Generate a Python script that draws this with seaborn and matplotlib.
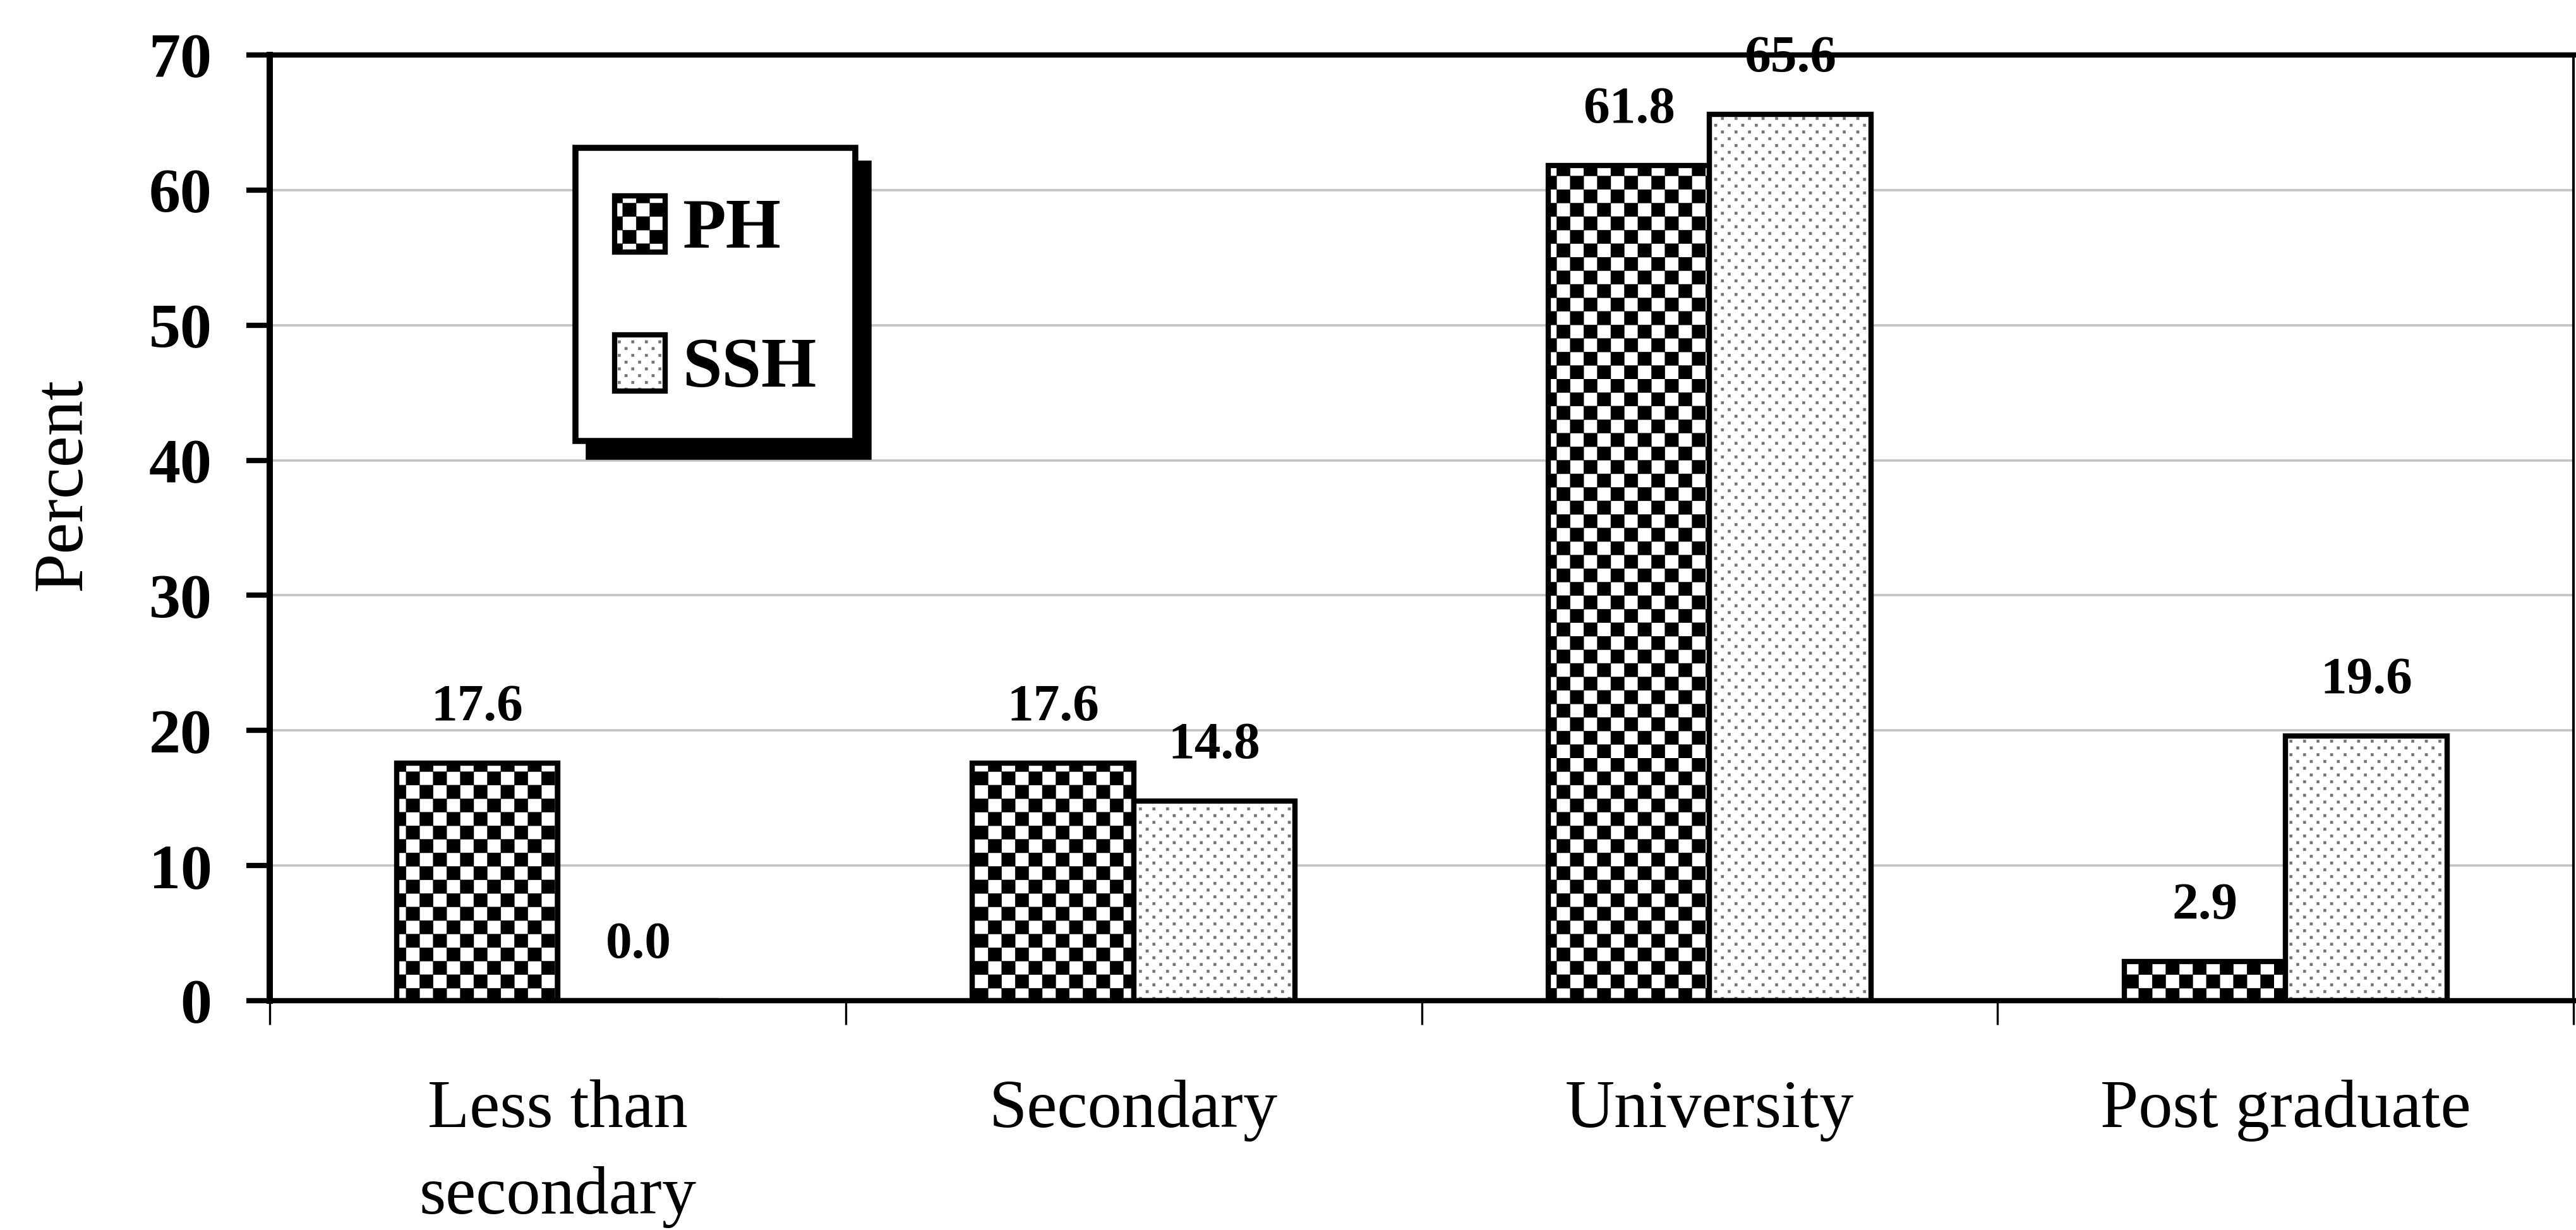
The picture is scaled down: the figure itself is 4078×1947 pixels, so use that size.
import warnings
warnings.filterwarnings("ignore")
import numpy as np
import pandas as pd
import matplotlib
matplotlib.use("Agg")
import matplotlib.pyplot as plt
import matplotlib.hatch as mhatch
import matplotlib.colors as mcolors
from matplotlib.path import Path
from matplotlib.patches import Patch, Rectangle
from matplotlib.legend_handler import HandlerPatch
from matplotlib.ticker import FixedLocator
import seaborn as sns

# ---------------- data ----------------
categories = ["Less than\nsecondary", "Secondary", "University", "Post graduate"]
series = ["PH", "SSH"]
ph_values = [17.6, 17.6, 61.8, 2.9]
ssh_values = [0.0, 14.8, 65.6, 19.6]
y_ticks = [0, 10, 20, 30, 40, 50, 60, 70]
y_label = "Percent"


# ---------------- custom fill patterns (checkerboard / stipple) ----------------
class FillPattern(mhatch.HatchPatternBase):
    def __init__(self, hatch, density):
        rects = []
        if "c" in hatch:
            n = 14
            s = 1.0 / n
            for i in range(n):
                for j in range(n):
                    if (i + j) % 2 == 0:
                        rects.append((i * s, j * s, s, s))
        if "d" in hatch:
            nc, nr = 14, 28
            d = 0.014
            for r in range(nr):
                for c in range(nc):
                    cx = (c + 0.25) / nc + (r % 2) * 0.5 / nc
                    cy = (r + 0.5) / nr
                    rects.append((cx - d / 2, cy - d / 2, d, d))
        self.rects = rects
        self.num_vertices = 5 * len(rects)

    def set_vertices_and_codes(self, vertices, codes):
        for k, (x, y, w, h) in enumerate(self.rects):
            vertices[5 * k:5 * k + 5] = [(x, y), (x + w, y), (x + w, y + h), (x, y + h), (x, y)]
            codes[5 * k:5 * k + 5] = [Path.MOVETO, Path.LINETO, Path.LINETO,
                                      Path.LINETO, Path.CLOSEPOLY]


mhatch._hatch_types.append(FillPattern)


def style_patch(p, hatch, hcolor, lw=2.0):
    p.set_facecolor("white")
    p.set_edgecolor("black")
    p.set_linewidth(lw)
    p.set_hatch(hatch)
    if hasattr(p, "set_hatchcolor"):
        p.set_hatchcolor(hcolor)
    else:
        p._hatch_color = mcolors.to_rgba(hcolor)


def legend_box(legend, orig_handle, xdescent, ydescent, width, height, fontsize):
    h = 0.79 * fontsize
    yc = 0.33 * fontsize
    return Rectangle((-xdescent, yc - h / 2), width, h)


sns.set_style("white")
plt.rcParams["font.family"] = ["Liberation Serif", "DejaVu Serif"]
plt.rcParams["hatch.linewidth"] = 0.1
plt.rcParams["text.color"] = "black"
plt.rcParams["axes.labelcolor"] = "black"
plt.rcParams["xtick.color"] = "black"
plt.rcParams["ytick.color"] = "black"

df = pd.DataFrame({
    "Education": categories * 2,
    "Percent": ph_values + ssh_values,
    "Group": [series[0]] * len(categories) + [series[1]] * len(categories),
})

fig = plt.figure(figsize=(4079 / 300, 1947 / 300), dpi=300)
ax = fig.add_axes([0.1047, 0.1864, 0.8941, 0.7689])

sns.barplot(data=df, x="Education", y="Percent", hue="Group",
            order=categories, hue_order=series,
            palette={"PH": "white", "SSH": "white"}, saturation=1,
            width=0.56, gap=0, errorbar=None,
            edgecolor="black", linewidth=2, legend=False, ax=ax)

pattern = {"PH": ("c", "black"), "SSH": ("d", "0.45")}
for cont, name in zip(ax.containers, series):
    for bar in cont:
        style_patch(bar, *pattern[name])

for cont in ax.containers:
    ax.bar_label(cont, fmt="%.1f", padding=12, fontsize=20, fontweight="bold",
                 color="black")

ax.set_xlim(-0.5, len(categories) - 0.5)
ax.set_ylim(y_ticks[0], y_ticks[-1])
ax.set_yticks(y_ticks)
ax.yaxis.grid(True, color="#c4c4c4", linewidth=0.9)
ax.xaxis.grid(False)
ax.set_axisbelow(True)

ax.tick_params(axis="y", which="major", direction="out", length=9, width=2,
               pad=13, labelsize=24, left=True, color="black", labelcolor="black")
for lbl in ax.get_yticklabels():
    lbl.set_fontweight("bold")

ax.tick_params(axis="x", which="major", length=0, pad=30, labelsize=26,
               labelcolor="black")
ax.xaxis.set_minor_locator(FixedLocator(np.arange(len(categories) + 1) - 0.5))
ax.tick_params(axis="x", which="minor", direction="out", length=9, width=0.8,
               bottom=True, color="black")
for lbl in ax.get_xticklabels():
    lbl.set_linespacing(1.52)

ax.set_xlabel("")
ax.set_ylabel(y_label, fontsize=27, labelpad=20, color="black")
ax.yaxis.label.set_y(0.546)

for side, lw in {"left": 2.4, "bottom": 2.0, "top": 2.0, "right": 1.0}.items():
    ax.spines[side].set_visible(True)
    ax.spines[side].set_color("black")
    ax.spines[side].set_linewidth(lw)

handles = []
for name in series:
    h = Patch()
    style_patch(h, *pattern[name])
    handles.append(h)

leg = ax.legend(handles, series, loc="upper left", bbox_to_anchor=(0.1327, 0.9018),
                borderaxespad=0, frameon=True, fancybox=False,
                shadow={"color": "black", "alpha": 1, "ox": 5, "oy": -6},
                prop={"weight": "bold", "size": 27},
                handlelength=0.71, handleheight=1.21, handletextpad=0.24,
                borderpad=0.55, labelspacing=0.89, edgecolor="black", framealpha=1,
                labelcolor="black",
                handler_map={Patch: HandlerPatch(patch_func=legend_box)})
leg.get_frame().set_linewidth(2.3)

fig.savefig("out.png", dpi=300)
